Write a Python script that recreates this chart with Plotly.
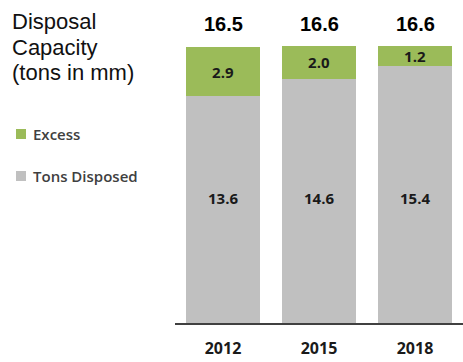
import plotly.graph_objects as go

years = ["2012", "2015", "2018"]
tons_disposed = [13.6, 14.6, 15.4]
excess = [2.9, 2.0, 1.2]
totals = [16.5, 16.6, 16.6]
series_names = ["Excess", "Tons Disposed"]
title_lines = ["Disposal", "Capacity", "(tons in mm)"]

GREEN = "#9BBB59"
GRAY = "#C0C0C0"

W, H = 463, 362
ML, MR, MT, MB = 175, 0, 0, 39
PW, PH = W - ML - MR, H - MT - MB


def px(x):
    return (x - ML) / PW


def py(y):
    return 1 - (y - MT) / PH


fig = go.Figure()
fig.add_bar(x=years, y=tons_disposed, name=series_names[1], marker=dict(color=GRAY, line=dict(width=0)),
            showlegend=False)
fig.add_bar(x=years, y=excess, name=series_names[0], marker=dict(color=GREEN, line=dict(width=0)),
            text=[f"{v:.1f}" for v in excess], textposition="inside", insidetextanchor="middle",
            textangle=0,
            textfont=dict(family="Open Sans", size=15, color="#1a1a1a", weight=700),
            showlegend=False)

annotations = []
# totals above bars
for i, t in enumerate(totals):
    annotations.append(dict(x=i, y=py(24), xref="x", yref="paper", text=f"<b>{t:.1f}</b>",
                            showarrow=False, xanchor="center", yanchor="middle",
                            font=dict(family="Liberation Sans, Arial", size=20, color="#000000")))
# gray segment labels
for i, v in enumerate(tons_disposed):
    annotations.append(dict(x=i, y=py(198), xref="x", yref="paper", text=f"{v:.1f}",
                            showarrow=False, xanchor="center", yanchor="middle",
                            font=dict(family="Open Sans", size=15, color="#1a1a1a", weight=700)))
# title (one annotation per line for tighter line spacing)
for k, line in enumerate(title_lines):
    annotations.append(dict(x=px(10), y=py(7 + 25.5 * k), xref="paper", yref="paper", text=line,
                            showarrow=False, xanchor="left", yanchor="top", align="left",
                            font=dict(family="Liberation Sans, Arial", size=22, color="#111111")))
# legend
shapes = []
for name, col, cy in [(series_names[0], GREEN, 134), (series_names[1], GRAY, 176)]:
    shapes.append(dict(type="rect", xref="paper", yref="paper", x0=px(16), x1=px(26), y0=py(cy + 5), y1=py(cy - 5),
                       fillcolor=col, line=dict(width=0)))
    annotations.append(dict(x=px(31), y=py(cy), xref="paper", yref="paper", text=name, showarrow=False,
                            xanchor="left", yanchor="middle",
                            font=dict(family="Open Sans", size=15, color="#404040", weight=600)))

fig.update_layout(
    width=W, height=H,
    margin=dict(l=ML, r=MR, t=MT, b=MB),
    barmode="stack", bargap=0.23,
    plot_bgcolor="white", paper_bgcolor="white",
    annotations=annotations, shapes=shapes,
    showlegend=False,
    uniformtext=dict(minsize=15, mode="show"),
    xaxis=dict(type="category", showline=True, linecolor="#404040", linewidth=2, ticks="", showgrid=False,
               tickfont=dict(family="Open Sans", size=16, color="#1a1a1a", weight=700),
               ticklabelstandoff=10,
               range=[-0.5, 2.5], fixedrange=True),
    yaxis=dict(visible=False, range=[0, PH / 16.7], fixedrange=True),
)

fig.write_html("out.html")
